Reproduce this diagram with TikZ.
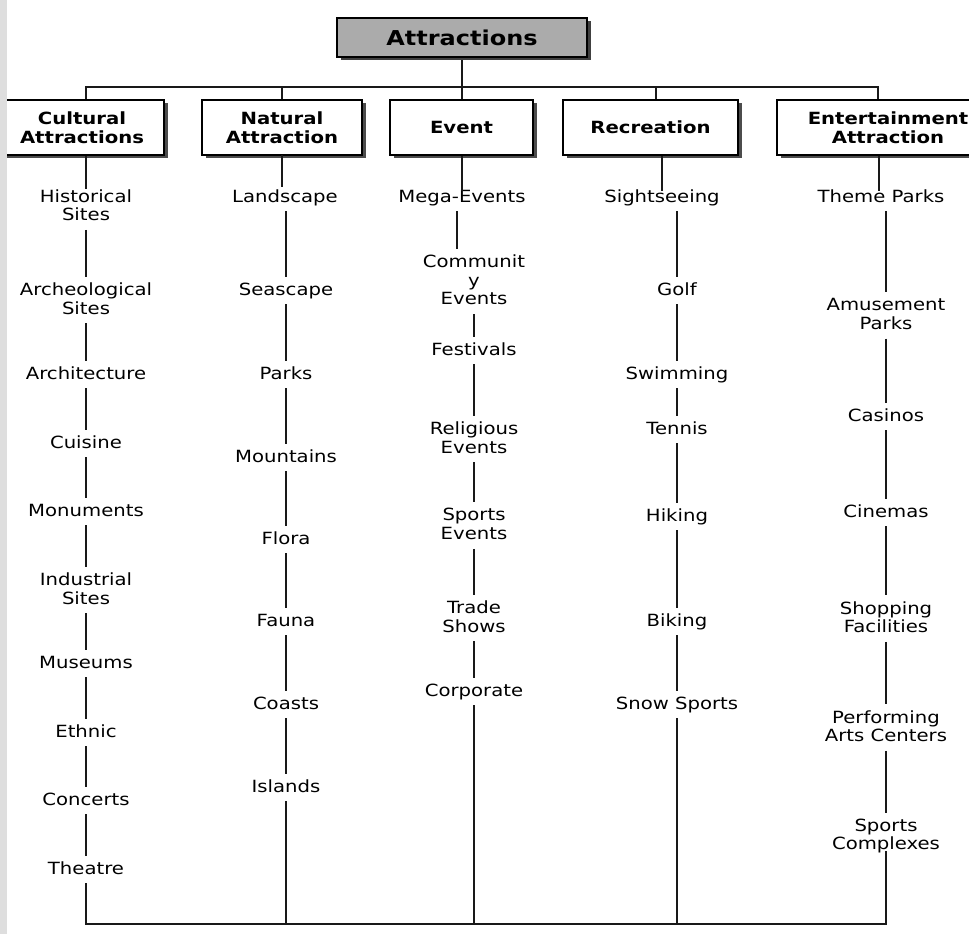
\documentclass[tikz,border=0pt]{standalone}
\usepackage{fontspec}
\setmainfont{DejaVu Sans}[FakeStretch=1.17]
\usetikzlibrary{shadows}
\begin{document}
\begin{tikzpicture}[x=1pt,y=-1pt,
  link/.style={line width=1.4pt, draw=black!90, shorten <=8pt, shorten >=5pt},
  drop/.style={line width=1.4pt, draw=black!90, shorten <=8pt},
  plain/.style={line width=1.4pt, draw=black!90},
  item/.style={font=\fontsize{16.8}{18.5}\selectfont, text=black, inner sep=1pt, text height=12.5pt, text depth=0pt},
  itemm/.style={font=\fontsize{16.8}{18.5}\selectfont, text=black, inner sep=1pt, align=center},
  cat/.style={draw=black, line width=1.5pt, fill=white, font=\fontsize{16.8}{19}\selectfont\bfseries,
    align=center, minimum height=55pt, inner sep=0pt,
    drop shadow={shadow xshift=4pt, shadow yshift=-3pt, fill=black!70, opacity=1}},
  titlebox/.style={draw=black, line width=1.5pt, fill=black!33, font=\fontsize{20.5}{24}\selectfont\bfseries,
    minimum width=250pt, minimum height=39pt, inner sep=0pt,
    drop shadow={shadow xshift=4pt, shadow yshift=-3pt, fill=black!75, opacity=1}}]
\useasboundingbox (0,0) rectangle (969,934);
\clip (0,0) rectangle (969,934);

% connectors of the upper level (drawn first, under the boxes)
\draw[plain] (462,57) -- (462,100);
\draw[plain] (86,100) -- (86,87) -- (878,87) -- (878,100);
\draw[plain] (282,87) -- (282,100);
\draw[plain] (656,87) -- (656,100);

% title and category boxes
\node[titlebox] (top) at (462,37.5) {Attractions};
\node[cat, minimum width=164pt] (cult) at (82,127.5) {Cultural\\Attractions};
\node[cat, minimum width=160pt] (nat) at (282,127.5) {Natural\\Attraction};
\node[cat, minimum width=143pt] (evt) at (461.5,127.5) {Event};
\node[cat, minimum width=175pt] (rec) at (650.5,127.5) {Recreation};
\node[cat, minimum width=222pt] (ent) at (888,127.5) {Entertainment\\Attraction};

% Cultural column
\node[itemm] (hist) at (86,205) {Historical\\Sites};
\node[itemm] (arch) at (86,298.5) {Archeological\\Sites};
\node[item] (archi) at (86,373) {Architecture};
\node[item] (cuis) at (86,442) {Cuisine};
\node[item] (monu) at (86,510) {Monuments};
\node[itemm] (indu) at (86,588.5) {Industrial\\Sites};
\node[item] (muse) at (86,662) {Museums};
\node[item] (ethn) at (86,731) {Ethnic};
\node[item] (conc) at (86,799) {Concerts};
\node[item] (thea) at (86,868) {Theatre};

% Natural column
\node[item] (land) at (285,196) {Landscape};
\node[item] (seas) at (286,289) {Seascape};
\node[item] (park) at (286,373) {Parks};
\node[item] (mount) at (286,456) {Mountains};
\node[item] (flora) at (286,538) {Flora};
\node[item] (fauna) at (286,620) {Fauna};
\node[item] (coast) at (286,703) {Coasts};
\node[item] (isl) at (286,786) {Islands};

% Event column
\node[item] (mega) at (462,196) {Mega-Events};
\node[itemm] (comm) at (474,280) {Communit\\y\\Events};
\node[item] (fest) at (474,349) {Festivals};
\node[itemm] (reli) at (474,437.5) {Religious\\Events};
\node[itemm] (spev) at (474,524) {Sports\\Events};
\node[itemm] (trade) at (474,616.5) {Trade\\Shows};
\node[item] (corp) at (474,690) {Corporate};

% Recreation column
\node[item] (sight) at (662,196) {Sightseeing};
\node[item] (golf) at (677,289) {Golf};
\node[item] (swim) at (677,373) {Swimming};
\node[item] (tenn) at (677,428) {Tennis};
\node[item] (hik) at (677,515) {Hiking};
\node[item] (bik) at (677,620) {Biking};
\node[item] (snow) at (677,703) {Snow Sports};

% Entertainment column
\node[item] (theme) at (881,196) {Theme Parks};
\node[itemm] (amus) at (886,314) {Amusement\\Parks};
\node[item] (casi) at (886,415) {Casinos};
\node[item] (cine) at (886,511) {Cinemas};
\node[itemm] (shop) at (886,617) {Shopping\\Facilities};
\node[itemm] (perf) at (886,726) {Performing\\Arts Centers};
\node[itemm] (spco) at (886,836) {Sports\\Complexes};

% links from boxes to first items
\draw[plain] (hist.north |- cult.south) -- ([yshift=-1pt]hist.north);
\draw[plain] (282,155) -- (282,187);
\draw[plain] (mega.north |- evt.south) -- ([yshift=-2pt]mega.north);
\draw[plain] (sight.north |- rec.south) -- ([yshift=-2pt]sight.north);
\draw[plain] ([xshift=-2pt]theme.north |- ent.south) -- ([xshift=-2pt,yshift=-2pt]theme.north);

% chains
\foreach \a/\b in {hist/arch, arch/archi, archi/cuis, cuis/monu, monu/indu, indu/muse, muse/ethn, ethn/conc, conc/thea,
  seas/park, park/mount, mount/flora, flora/fauna, fauna/coast, coast/isl,
  comm/fest, fest/reli, reli/spev, spev/trade, trade/corp,
  golf/swim, swim/tenn, tenn/hik, hik/bik, bik/snow,
  amus/casi, casi/cine, cine/shop, shop/perf, perf/spco}
  \draw[link] (\a.south) -- (\b.north);
\draw[link] (land.south -| seas.north) -- (seas.north);
\draw[link] ([xshift=-5pt]mega.south) -- ([xshift=-5pt]mega.south |- comm.north);
\draw[link] (sight.south -| golf.north) -- (golf.north);
\draw[link] (theme.south -| amus.north) -- (amus.north);

% bottom collector
\coordinate (base) at (0,924);
\draw[plain, shorten <=8pt] (thea.south) -- (thea.south |- base) -- (spco.south |- base) -- ([yshift=3pt]spco.south);
\draw[drop] (isl.south) -- (isl.south |- base);
\draw[drop] (corp.south) -- (corp.south |- base);
\draw[drop] (snow.south) -- (snow.south |- base);

% scan edge strip
\fill[black!13] (0,0) rectangle (7,934);
\end{tikzpicture}
\end{document}
